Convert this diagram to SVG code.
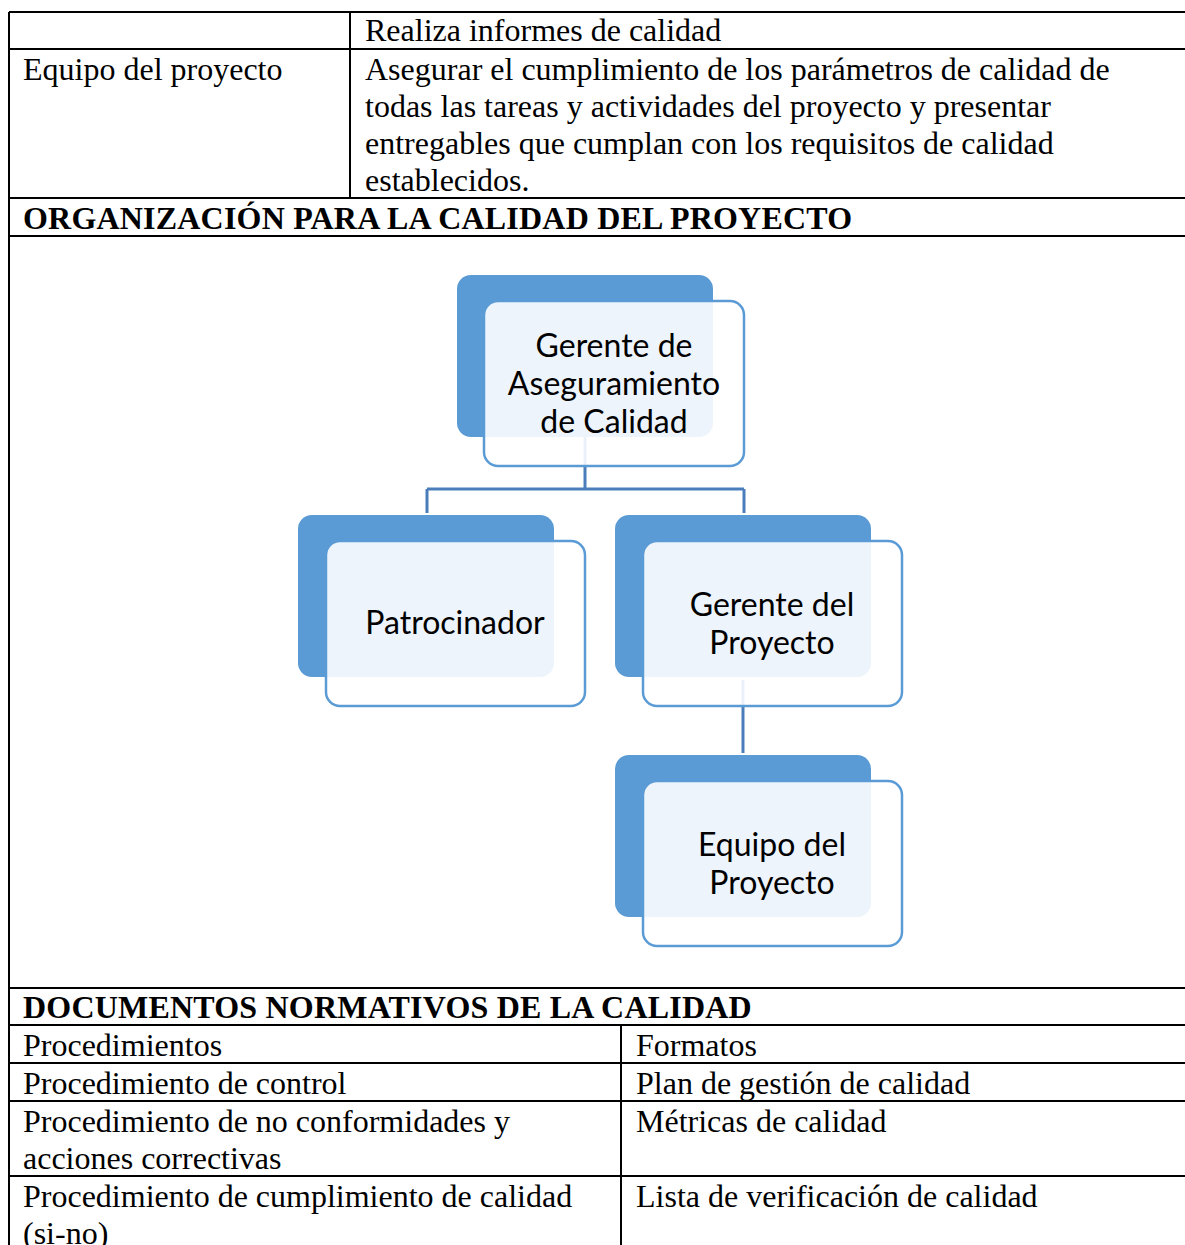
<svg xmlns="http://www.w3.org/2000/svg" width="1185" height="1245" viewBox="0 0 1185 1245">
<style>
.t{font-family:"Liberation Serif","Times New Roman",serif;font-size:32px;fill:#000}
.b{font-weight:bold;letter-spacing:0.2px}
.g{stroke:#000;stroke-width:2;fill:none}
.n{font-family:Lato,"Open Sans",sans-serif;font-size:32px;fill:#000;text-anchor:middle}
.back{fill:#5b9bd5}
.front{fill:#fff;fill-opacity:0.89;stroke:#5b9bd5;stroke-width:2.5}
.c{stroke:#4a7ebb;stroke-width:3;fill:none}
</style>
<rect width="1185" height="1245" fill="#fff"/>
<g id="table-grid" class="g">
<path d="M9 12 H1185 M9 49 H1185 M9 198 H1185 M9 236 H1185 M9 988 H1185 M9 1025 H1185 M9 1063 H1185 M9 1101 H1185 M9 1176 H1185"/>
<path d="M9 12 V1245 M350 12 V198 M621 1025 V1245"/>
</g>
<g id="table-text">
<text class="t" x="365" y="41">Realiza informes de calidad</text>
<text class="t" x="23" y="80">Equipo del proyecto</text>
<text class="t" x="365" y="80">Asegurar el cumplimiento de los parámetros de calidad de</text>
<text class="t" x="365" y="117">todas las tareas y actividades del proyecto y presentar</text>
<text class="t" x="365" y="154">entregables que cumplan con los requisitos de calidad</text>
<text class="t" x="365" y="191">establecidos.</text>
<text class="t b" x="23" y="229">ORGANIZACIÓN PARA LA CALIDAD DEL PROYECTO</text>
<text class="t b" x="23" y="1018">DOCUMENTOS NORMATIVOS DE LA CALIDAD</text>
<text class="t" x="23" y="1056">Procedimientos</text>
<text class="t" x="636" y="1056">Formatos</text>
<text class="t" x="23" y="1094">Procedimiento de control</text>
<text class="t" x="636" y="1094">Plan de gestión de calidad</text>
<text class="t" x="23" y="1132">Procedimiento de no conformidades y</text>
<text class="t" x="23" y="1169">acciones correctivas</text>
<text class="t" x="636" y="1132">Métricas de calidad</text>
<text class="t" x="23" y="1207">Procedimiento de cumplimiento de calidad</text>
<text class="t" x="23" y="1244">(si-no)</text>
<text class="t" x="636" y="1207">Lista de verificación de calidad</text>
</g>
<g id="connectors">
<path class="c" d="M585 437 V489 M427 489 H744 M427 489 V513 M744 489 V513"/>
<path class="c" d="M743 680 V753"/>
</g>
<g id="node-gerente-aseguramiento">
<rect class="back" x="457" y="275" width="256" height="162" rx="14"/>
<rect class="front" x="484" y="301" width="260" height="165" rx="14"/>
<text class="n" x="614" y="357">Gerente de</text>
<text class="n" x="614" y="395">Aseguramiento</text>
<text class="n" x="614" y="433">de Calidad</text>
</g>
<g id="node-patrocinador">
<rect class="back" x="298" y="515" width="256" height="162" rx="14"/>
<rect class="front" x="326" y="541" width="259" height="165" rx="14"/>
<text class="n" x="455" y="634">Patrocinador</text>
</g>
<g id="node-gerente-proyecto">
<rect class="back" x="615" y="515" width="256" height="162" rx="14"/>
<rect class="front" x="643" y="541" width="259" height="165" rx="14"/>
<text class="n" x="772" y="616">Gerente del</text>
<text class="n" x="772" y="654">Proyecto</text>
</g>
<g id="node-equipo-proyecto">
<rect class="back" x="615" y="755" width="256" height="162" rx="14"/>
<rect class="front" x="643" y="781" width="259" height="165" rx="14"/>
<text class="n" x="772" y="856">Equipo del</text>
<text class="n" x="772" y="894">Proyecto</text>
</g>
</svg>
